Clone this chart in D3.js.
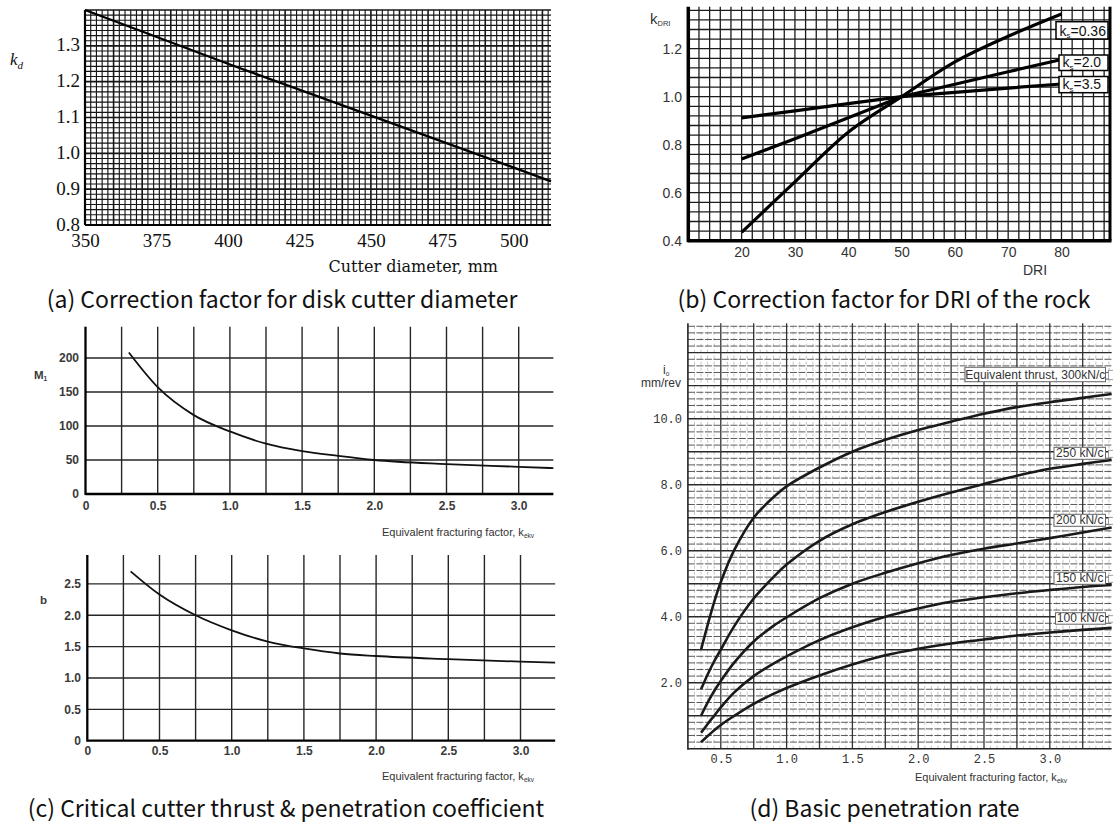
<!DOCTYPE html>
<html><head><meta charset="utf-8">
<script src="https://cdn.jsdelivr.net/npm/d3@7"></script>
<style>body{margin:0;background:#fff}svg{display:block}</style>
</head><body>
<svg id="c" width="1113" height="822"></svg>
<script>
// ---------------- data ----------------
// (a) correction factor for disk cutter diameter
const aDiameter = [350, 400, 450, 500, 513];
const aKd = [1.40, 1.25, 1.105, 0.96, 0.922];
const aXTicks = [350, 375, 400, 425, 450, 475, 500];
const aYTicks = [0.8, 0.9, 1.0, 1.1, 1.2, 1.3];

// (b) correction factor for DRI
const bDRI = [20, 30, 40, 50, 60, 70, 80];
const bKs036 = [0.435, 0.645, 0.852, 1.0, 1.145, 1.252, 1.345];
const bKs20 = [0.740, 0.825, 0.912, 1.0, 1.052, 1.104, 1.155];
const bKs35 = [0.912, 0.941, 0.971, 1.0, 1.018, 1.036, 1.053];
const bKsNames = ["0.36", "2.0", "3.5"];
const bXTicks = [20, 30, 40, 50, 60, 70, 80];
const bYTicks = [0.4, 0.6, 0.8, 1.0, 1.2];

// (c) critical cutter thrust M1 & penetration coefficient b
const cKekv = [0.3, 0.5, 0.75, 1.0, 1.25, 1.5, 1.75, 2.0, 2.5, 3.0, 3.24];
const cM1 = [208, 157, 116, 92, 74, 63, 56, 50, 44, 40, 38];
const cB = [2.70, 2.33, 2.00, 1.76, 1.58, 1.47, 1.39, 1.35, 1.30, 1.26, 1.245];
const cXTicks = [0, 0.5, 1.0, 1.5, 2.0, 2.5, 3.0];
const cM1Ticks = [0, 50, 100, 150, 200];
const cBTicks = [0, 0.5, 1.0, 1.5, 2.0, 2.5];

// (d) basic penetration rate
const dKekv = [0.35, 0.4, 0.45, 0.5, 0.6, 0.75, 0.9, 1.0, 1.25, 1.5, 1.75, 2.0, 2.25, 2.5, 2.75, 3.0, 3.25, 3.47];
const d300 = [3.0, 3.75, 4.45, 5.05, 6.0, 7.0, 7.62, 7.95, 8.52, 9.0, 9.36, 9.66, 9.91, 10.15, 10.35, 10.5, 10.63, 10.75];
const d250 = [1.8, 2.25, 2.65, 3.0, 3.7, 4.55, 5.2, 5.58, 6.3, 6.8, 7.17, 7.48, 7.76, 8.02, 8.27, 8.48, 8.63, 8.75];
const d200 = [1.0, 1.4, 1.75, 2.05, 2.6, 3.25, 3.72, 3.98, 4.56, 5.0, 5.33, 5.62, 5.87, 6.06, 6.22, 6.38, 6.55, 6.7];
const d150 = [0.48, 0.75, 1.0, 1.25, 1.7, 2.2, 2.58, 2.8, 3.29, 3.68, 4.0, 4.25, 4.45, 4.59, 4.71, 4.81, 4.9, 4.96];
const d100 = [0.2, 0.38, 0.56, 0.72, 0.99, 1.36, 1.66, 1.84, 2.22, 2.55, 2.83, 3.03, 3.19, 3.31, 3.43, 3.52, 3.6, 3.66];
const dLabels = ["Equivalent thrust, 300kN/c", "250 kN/c", "200 kN/c", "150 kN/c", "100 kN/c"];
const dXTicks = [0.5, 1.0, 1.5, 2.0, 2.5, 3.0];
const dYTicks = [2, 4, 6, 8, 10];

const captions = [
  "(a) Correction factor for disk cutter diameter",
  "(b) Correction factor for DRI of the rock",
  "(c) Critical cutter thrust & penetration coefficient",
  "(d) Basic penetration rate"
];

// ---------------- helpers ----------------
const svg = d3.select("#c");
svg.append("rect").attr("width", 1113).attr("height", 822).attr("fill", "#fff");

function seg(g, x1, y1, x2, y2, w, c, dash) {
  const l = g.append("line").attr("x1", x1).attr("y1", y1).attr("x2", x2).attr("y2", y2)
    .attr("stroke", c).attr("stroke-width", w);
  if (dash) l.attr("stroke-dasharray", dash);
  return l;
}
function styleAxis(g, family, size, fill, weight) {
  g.select(".domain").remove();
  g.selectAll(".tick line").remove();
  g.selectAll("text").attr("font-family", family).attr("font-size", size)
    .attr("fill", fill).attr("font-weight", weight || "normal");
}
const fmt1 = d3.format(".1f");
const fmtC = v => v === 0 ? "0" : fmt1(v);

// ---------------- (a) ----------------
{
  const g = svg.append("g");
  const x = d3.scaleLinear().domain([350, 513]).range([85, 551]);
  const y = d3.scaleLinear().domain([0.8, 1.40]).range([225, 10]);
  d3.range(176, 257).map(i => i * 2).forEach(v =>
    seg(g, x(v), y(0.8), x(v), y(1.40), v % 10 === 0 ? 1.6 : 1.15, "#161616"));
  d3.range(1, 43).forEach(i => {
    const v = 0.8 + i * 0.1 / 7;
    seg(g, x(350), y(v), x(513), y(v), i % 7 === 0 ? 1.6 : 1.15, "#161616");
  });
  seg(g, x(350), y(0.8), x(350), y(1.40), 2.2, "#000");
  seg(g, x(350), y(0.8), x(513), y(0.8), 2.2, "#000");
  g.append("path").datum(d3.zip(aDiameter, aKd))
    .attr("d", d3.line().x(d => x(d[0])).y(d => y(d[1])))
    .attr("fill", "none").attr("stroke", "#000").attr("stroke-width", 2.4);
  const yl = g.append("g").attr("transform", "translate(80,-1)")
    .call(d3.axisLeft(y).tickValues(aYTicks).tickSize(0).tickPadding(0).tickFormat(fmt1));
  styleAxis(yl, "Liberation Serif", 19, "#111");
  const xl = g.append("g").attr("transform", `translate(0,${y(0.8)})`)
    .call(d3.axisBottom(x).tickValues(aXTicks).tickSize(0).tickPadding(9).tickFormat(d3.format("d")));
  styleAxis(xl, "Liberation Serif", 19, "#111");
  const t = g.append("text").attr("x", 10).attr("y", 65).attr("font-family", "Liberation Serif")
    .attr("font-style", "italic").attr("font-size", 17).attr("fill", "#111");
  t.append("tspan").text("k");
  t.append("tspan").attr("font-size", 11).attr("dy", 4).text("d");
  g.append("text").attr("x", 498).attr("y", 272).attr("text-anchor", "end")
    .attr("font-family", "DejaVu Serif").attr("font-size", 16).attr("fill", "#111")
    .text("Cutter diameter, mm");
}

// ---------------- (b) ----------------
{
  const g = svg.append("g");
  const x = d3.scaleLinear().domain([10, 89.1]).range([688.3, 1110]);
  const y = d3.scaleLinear().domain([0.4, 1.375]).range([240.7, 6.7]);
  d3.range(6, 45).map(i => i * 2).forEach(v =>
    seg(g, x(v), y(0.4), x(v), y(1.375), 1.3, "#1c1c1c"));
  d3.range(11, 35).map(i => i * 0.04).forEach(v =>
    seg(g, x(10), y(v), x(89.1), y(v), 1.3, "#1c1c1c"));
  seg(g, x(10), y(0.4) + 1.5, x(10), y(1.375), 3.5, "#000");
  seg(g, x(10), y(0.4), x(89.1) + 1.5, y(0.4), 3.5, "#000");
  seg(g, x(89.1), y(0.4), x(89.1), y(1.375), 3, "#000");
  const smooth = d3.line().x(d => x(d[0])).y(d => y(d[1])).curve(d3.curveCatmullRom.alpha(0.5));
  const straight = d3.line().x(d => x(d[0])).y(d => y(d[1]));
  [[bKs036, smooth], [bKs20, straight], [bKs35, straight]].forEach(([s, gen]) =>
    g.append("path").datum(d3.zip(bDRI, s)).attr("d", gen)
      .attr("fill", "none").attr("stroke", "#000").attr("stroke-width", 3.2));
  // labels
  const boxes = [[1056, 21.7, 17.3], [1059, 55, 15.5], [1059, 76.5, 16.2]];
  bKsNames.forEach((n, i) => {
    const [bx, by, bh] = boxes[i];
    g.append("rect").attr("x", bx).attr("y", by).attr("width", 1108 - bx).attr("height", bh)
      .attr("fill", "#fff").attr("stroke", "#000").attr("stroke-width", 1.5);
    const t = g.append("text").attr("x", bx + 3.5).attr("y", by + bh - 3.5)
      .attr("font-family", "Liberation Sans").attr("font-size", 14).attr("fill", "#111");
    t.append("tspan").text("k");
    t.append("tspan").attr("font-size", 8).attr("dy", 2.5).text("s");
    t.append("tspan").attr("dy", -2.5).text("=" + n);
  });
  const yl = g.append("g").attr("transform", "translate(682,0)")
    .call(d3.axisLeft(y).tickValues(bYTicks).tickSize(0).tickPadding(0).tickFormat(fmt1));
  styleAxis(yl, "Liberation Sans", 14, "#333");
  const xl = g.append("g").attr("transform", `translate(0,${y(0.4)})`)
    .call(d3.axisBottom(x).tickValues(bXTicks).tickSize(0).tickPadding(6.5).tickFormat(d3.format("d")));
  styleAxis(xl, "Liberation Sans", 14, "#333");
  const t = g.append("text").attr("x", 650).attr("y", 24).attr("font-family", "Liberation Sans")
    .attr("font-size", 15).attr("fill", "#333");
  t.append("tspan").text("k");
  t.append("tspan").attr("font-size", 7.5).attr("dy", 2).text("DRI");
  g.append("text").attr("x", 1035).attr("y", 275).attr("text-anchor", "middle")
    .attr("font-family", "Liberation Sans").attr("font-size", 14).attr("fill", "#333").text("DRI");
}

// ---------------- (c) ----------------
function panelC(top, bottom, x0, yMax, vals, ticks, label, labelY, yAxisX, padX, xLabelY) {
  const g = svg.append("g");
  const x = d3.scaleLinear().domain([0, 3.24]).range([x0, x0 + 3.24 * 144.4]);
  const y = d3.scaleLinear().domain([0, yMax]).range([bottom, top]);
  d3.range(1, 13).map(i => i * 0.25).forEach(v =>
    seg(g, x(v), y(0), x(v), y(yMax), 1.4, "#262626"));
  ticks.filter(v => v > 0).forEach(v => seg(g, x(0), y(v), x(3.24), y(v), 1.4, "#262626"));
  seg(g, x(0), y(0) + 1, x(0), y(yMax), 2.3, "#000");
  seg(g, x(0), y(0), x(3.24), y(0), 2.3, "#000");
  g.append("path").datum(d3.zip(cKekv, vals))
    .attr("d", d3.line().x(d => x(d[0])).y(d => y(d[1])).curve(d3.curveMonotoneX))
    .attr("fill", "none").attr("stroke", "#111").attr("stroke-width", 1.8);
  const yl = g.append("g").attr("transform", `translate(${yAxisX},0)`)
    .call(d3.axisLeft(y).tickValues(ticks).tickSize(0).tickPadding(0)
      .tickFormat(yMax > 10 ? d3.format("d") : fmtC));
  styleAxis(yl, "Liberation Sans", 12, "#3a3a3a", "bold");
  const xl = g.append("g").attr("transform", `translate(0,${y(0)})`)
    .call(d3.axisBottom(x).tickValues(cXTicks).tickSize(0).tickPadding(padX).tickFormat(fmtC));
  styleAxis(xl, "Liberation Sans", 12, "#3a3a3a", "bold");
  const t = g.append("text").attr("x", label[1]).attr("y", labelY).attr("font-family", "Liberation Sans")
    .attr("font-size", 11.5).attr("font-weight", "bold").attr("fill", "#3a3a3a");
  t.append("tspan").text(label[0]);
  if (label[2]) t.append("tspan").attr("font-size", 6.5).attr("dy", 2).text(label[2]);
  const xt = g.append("text").attr("x", 534).attr("y", xLabelY).attr("text-anchor", "end")
    .attr("font-family", "Liberation Sans").attr("font-size", 11).attr("fill", "#333");
  xt.append("tspan").text("Equivalent fracturing factor, k");
  xt.append("tspan").attr("font-size", 6.5).attr("dy", 2).text("ekv");
}
panelC(326.7, 494, 85.5, 246, cM1, cM1Ticks, ["M", 34, "1"], 378.5, 79, 7, 536);
panelC(555, 740.7, 87.3, 2.96, cB, cBTicks, ["b", 40], 603.5, 81, 6, 780);

// ---------------- (d) ----------------
{
  const g = svg.append("g");
  const x = d3.scaleLinear().domain([0.25, 3.47]).range([687.9, 687.9 + 3.22 * 131.6]);
  const y = d3.scaleLinear().domain([0, 12.89]).range([748.7, 323.3]);
  d3.range(6, 70).filter(i => i % 5 !== 0).map(i => i * 0.05).forEach(v =>
    seg(g, x(v), y(0), x(v), y(12.89), 0.8, "#b5b5b5", "3,3"));
  d3.range(1, 65).forEach(i => {
    const v = i * 0.2;
    if (i % 5 === 0) seg(g, x(0.25), y(v), x(3.47), y(v), 1.4, "#2a2a2a");
    else seg(g, x(0.25), y(v), x(3.47), y(v), 1, "#5a5a5a", "7,1.5");
  });
  d3.range(2, 14).map(i => i * 0.25).forEach(v =>
    seg(g, x(v), y(0), x(v), y(12.89), 1.3, "#333"));
  seg(g, x(0.25), y(0) + 1, x(0.25), y(12.89), 1.6, "#222");
  seg(g, x(0.25), y(0), x(3.47), y(0), 1.6, "#222");
  const line = d3.line().x(d => x(d[0])).y(d => y(d[1])).curve(d3.curveCatmullRom.alpha(0.5));
  [d300, d250, d200, d150, d100].forEach(s =>
    g.append("path").datum(d3.zip(dKekv, s)).attr("d", line)
      .attr("fill", "none").attr("stroke", "#1a1a1a").attr("stroke-width", 2.6));
  const boxes = [[965, 367.3, 14.4], [1054, 447.3, 12], [1054, 514.3, 12], [1054, 572.3, 12], [1055.5, 612.7, 11.5]];
  dLabels.forEach((n, i) => {
    const [bx, by, bh] = boxes[i];
    g.append("rect").attr("x", bx).attr("y", by).attr("width", 1105.5 - bx).attr("height", bh)
      .attr("fill", "#fff").attr("stroke", "#666").attr("stroke-width", 1);
    g.append("rect").attr("x", 1108.5).attr("y", by + 3).attr("width", 6).attr("height", bh - 5)
      .attr("fill", "#fff").attr("stroke", "#888").attr("stroke-width", 0.8);
    g.append("text").attr("x", (bx + 1105.5) / 2).attr("y", by + bh - 2.5).attr("text-anchor", "middle")
      .attr("font-family", "Liberation Sans").attr("font-size", 12).attr("fill", "#333").text(n);
  });
  const yl = g.append("g").attr("transform", "translate(682,0)")
    .call(d3.axisLeft(y).tickValues(dYTicks).tickSize(0).tickPadding(0).tickFormat(fmt1));
  styleAxis(yl, "Liberation Mono", 12, "#333");
  const xl = g.append("g").attr("transform", `translate(0,${y(0)})`)
    .call(d3.axisBottom(x).tickValues(dXTicks).tickSize(0).tickPadding(5.5).tickFormat(fmt1));
  styleAxis(xl, "Liberation Mono", 12, "#333");
  const t = g.append("text").attr("x", 663).attr("y", 374).attr("font-family", "Liberation Sans")
    .attr("font-size", 12).attr("fill", "#333");
  t.append("tspan").text("i");
  t.append("tspan").attr("font-size", 6.5).attr("dy", 2).text("o");
  g.append("text").attr("x", 661).attr("y", 387).attr("text-anchor", "middle")
    .attr("font-family", "Liberation Sans").attr("font-size", 12).attr("fill", "#333").text("mm/rev");
  const xt = g.append("text").attr("x", 1067).attr("y", 781).attr("text-anchor", "end")
    .attr("font-family", "Liberation Sans").attr("font-size", 11).attr("fill", "#333");
  xt.append("tspan").text("Equivalent fracturing factor, k");
  xt.append("tspan").attr("font-size", 6.5).attr("dy", 2).text("ekv");
}

// ---------------- captions ----------------
const capPos = [[282, 308], [884, 308], [286, 816.5], [884.5, 816.5]];
captions.forEach((c, i) =>
  svg.append("text").attr("x", capPos[i][0]).attr("y", capPos[i][1]).attr("text-anchor", "middle")
    .attr("font-family", "Noto Sans CJK KR").attr("font-size", 23).attr("fill", "#111").text(c));
</script>
</body></html>
